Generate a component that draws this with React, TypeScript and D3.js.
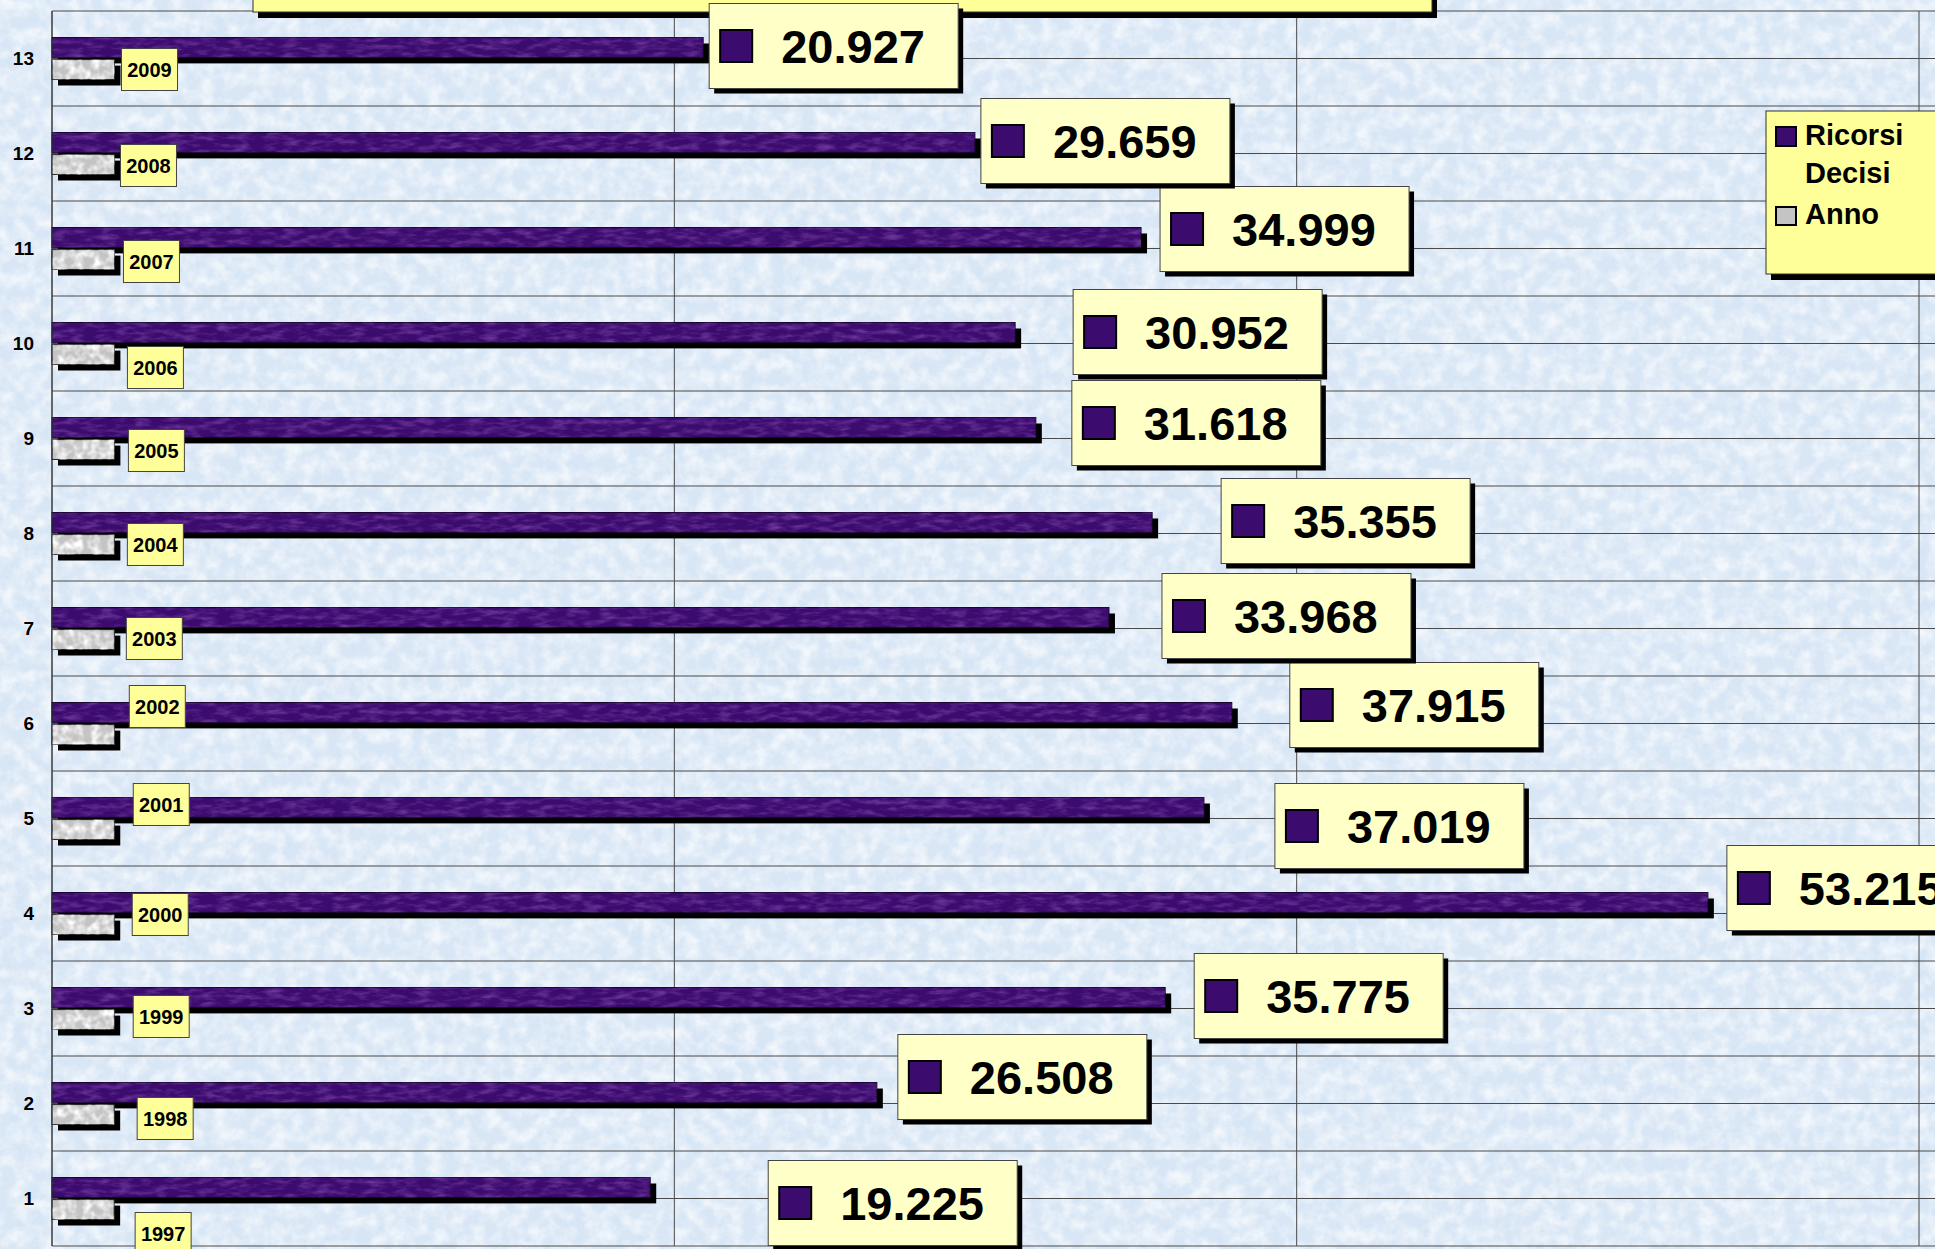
import React from "react";
import * as d3 from "d3";

const categories = ["1", "2", "3", "4", "5", "6", "7", "8", "9", "10", "11", "12", "13"];
const years = [1997, 1998, 1999, 2000, 2001, 2002, 2003, 2004, 2005, 2006, 2007, 2008, 2009];
const ricorsiDecisi = [19225, 26508, 35775, 53215, 37019, 37915, 33968, 35355, 31618, 30952, 34999, 29659, 20927];
const xTicks = [0, 20000, 40000, 60000];
const seriesNames = ["Ricorsi Decisi", "Anno"];

// hand-dragged label placement (offset from bar end / row centre)
const valueLabelDx = [118, 21, 29, 19, 71, 58, 53, 69, 36, 58, 19, 6, 6];
const valueLabelDy = [-38, -69, -55, -68, -35, -61, -55, -55, -58, -54, -62, -55, -55];
const yearLabelDx = [21, 23, 19, 18, 19, 15, 12, 13, 14, 13, 9, 6, 7];
const yearLabelDy = [14, -6, -13, -20, -35, -38, -11, -10, -9, 3, -8, -9, -10];

const W = 1935;
const H = 1249;
const left = 52;
const right = 1919;
const top = 11;
const bottom = 1246;
const font = "'Liberation Sans', Arial, Helvetica, sans-serif";
const purple = "#3b0b6e";
const grey = "#c4c4c4";

const fmt = d3.formatLocale({ decimal: ",", thousands: ".", grouping: [3], currency: ["€", ""] }).format(",d");

export default function App() {
  const x = d3.scaleLinear().domain([0, 60000]).range([left, right]);
  const y = d3
    .scaleBand()
    .domain(categories.slice().reverse())
    .range([top, bottom]);
  const sub = d3.scaleBand().domain(["r", "a"]).range([-21, 21]).paddingInner(0.1);
  const bw = y.bandwidth();
  const center = (c) => (y(c) as number) + bw / 2;

  const hLines = [];
  categories.forEach((c) => {
    hLines.push(y(c) as number);
    hLines.push(center(c));
  });
  hLines.push(bottom);

  const boxW = 249;
  const boxH = 85;

  return (
    <svg width={W} height={H} style={{ position: "absolute", left: 0, top: 0, display: "block" }}>
      <defs>
        <filter id="paper" x="0" y="0" width="100%" height="100%">
          <feTurbulence type="fractalNoise" baseFrequency="0.07" numOctaves="4" seed="5" result="n" />
          <feColorMatrix in="n" type="matrix" values="0 0 0 0 1  0 0 0 0 1  0 0 0 0 1  2.0 0 0 0 -0.7" />
        </filter>
        <filter id="paper2" x="0" y="0" width="100%" height="100%">
          <feTurbulence type="fractalNoise" baseFrequency="0.12" numOctaves="2" seed="11" result="n" />
          <feColorMatrix in="n" type="matrix" values="0 0 0 0 0.66  0 0 0 0 0.78  0 0 0 0 0.92  0 1.6 0 0 -0.75" />
        </filter>
        <filter id="purpleTex" x="0" y="0" width="100%" height="100%">
          <feTurbulence type="fractalNoise" baseFrequency="0.06 0.2" numOctaves="3" seed="2" result="n" />
          <feColorMatrix in="n" type="matrix" values="0 0 0 0 0.3  0 0 0 0 0.1  0 0 0 0 0.5  1.2 0 0 0 -0.5" result="c" />
          <feComposite in="c" in2="SourceGraphic" operator="in" />
        </filter>
        <filter id="greyTex" x="0" y="0" width="100%" height="100%">
          <feTurbulence type="fractalNoise" baseFrequency="0.12" numOctaves="2" seed="4" result="n" />
          <feColorMatrix in="n" type="matrix" values="0 0 0 0 1  0 0 0 0 1  0 0 0 0 1  2.4 0 0 0 -0.9" result="c" />
          <feComposite in="c" in2="SourceGraphic" operator="in" />
        </filter>
      </defs>

      {/* background */}
      <rect x={0} y={0} width={W} height={H} fill="#d8e6f5" />
      <rect x={0} y={0} width={W} height={H} fill="#fff" filter="url(#paper2)" />
      <rect x={0} y={0} width={W} height={H} fill="#fff" filter="url(#paper)" opacity={0.7} />

      {/* gridlines */}
      {hLines.map((v, i) => (
        <line key={"h" + i} x1={left} x2={W} y1={v} y2={v} stroke="#4a4a4a" strokeWidth={1} />
      ))}
      {xTicks.map((t) => (
        <line key={"v" + t} x1={x(t)} x2={x(t)} y1={top} y2={bottom} stroke="#4a4a4a" strokeWidth={1} />
      ))}

      {/* title box cut off at the top */}
      <rect x={258} y={-60} width={1179} height={78} fill="#000" />
      <rect x={253} y={-60} width={1179} height={72} fill="#ffff99" stroke="#333" strokeWidth={1} />

      {/* bars */}
      {categories.map((c, i) => {
        const cy = center(c);
        const ry = cy + (sub("r") as number);
        const ay = cy + (sub("a") as number);
        const h = sub.bandwidth();
        const rw = x(ricorsiDecisi[i]) - x(0);
        const aw = x(years[i]) - x(0);
        return (
          <g key={"b" + c}>
            <rect x={x(0) + 6} y={ry + 6} width={rw} height={h} fill="#000" />
            <rect x={x(0)} y={ry} width={rw} height={h} fill={purple} stroke="#1a0530" strokeWidth={1} />
            <rect x={x(0)} y={ry} width={rw} height={h} fill="#fff" filter="url(#purpleTex)" />
            <rect x={x(0) + 6} y={ay + 6} width={aw} height={h} fill="#000" />
            <rect x={x(0)} y={ay} width={aw} height={h} fill={grey} stroke="#222" strokeWidth={1} />
            <rect x={x(0)} y={ay} width={aw} height={h} fill="#fff" filter="url(#greyTex)" />
          </g>
        );
      })}

      {/* left axis */}
      <line x1={left} x2={left} y1={top} y2={bottom} stroke="#333" strokeWidth={1} />
      {categories.map((c) => (
        <text key={"t" + c} x={34} y={center(c) + 6} textAnchor="end" fontFamily={font} fontWeight="bold" fontSize={19} fill="#000">
          {c}
        </text>
      ))}

      {/* year labels */}
      {categories.map((c, i) => {
        const bx = x(years[i]) + yearLabelDx[i];
        const by = center(c) + yearLabelDy[i];
        return (
          <g key={"y" + c}>
            <rect x={bx} y={by} width={56} height={42} fill="#ffff99" stroke="#444" strokeWidth={1} />
            <text x={bx + 28} y={by + 28} textAnchor="middle" fontFamily={font} fontWeight="bold" fontSize={20} fill="#000">
              {years[i]}
            </text>
          </g>
        );
      })}

      {/* value labels */}
      {categories.map((c, i) => {
        const bx = x(ricorsiDecisi[i]) + valueLabelDx[i];
        const by = center(c) + valueLabelDy[i];
        return (
          <g key={"v" + c}>
            <rect x={bx + 5} y={by + 5} width={boxW} height={boxH} fill="#000" />
            <rect x={bx} y={by} width={boxW} height={boxH} fill="#ffffc8" stroke="#444" strokeWidth={1} />
            <rect x={bx + 11} y={by + (boxH - 32) / 2} width={32} height={32} fill={purple} stroke="#000" strokeWidth={2} />
            <text x={bx + 72} y={by + boxH / 2 + 16.5} fontFamily={font} fontWeight="bold" fontSize={47} fill="#000">
              {fmt(ricorsiDecisi[i])}
            </text>
          </g>
        );
      })}

      {/* legend */}
      <g>
        <rect x={1771} y={116} width={180} height={164} fill="#000" />
        <rect x={1766} y={111} width={180} height={163} fill="#ffff99" stroke="#333" strokeWidth={1} />
        <rect x={1776} y={127} width={20} height={19} fill={purple} stroke="#000" strokeWidth={2} />
        <text x={1805} y={145} fontFamily={font} fontWeight="bold" fontSize={29} fill="#000">Ricorsi</text>
        <text x={1805} y={183} fontFamily={font} fontWeight="bold" fontSize={29} fill="#000">Decisi</text>
        <rect x={1776} y={207} width={20} height={18} fill={grey} stroke="#000" strokeWidth={2} />
        <text x={1805} y={224} fontFamily={font} fontWeight="bold" fontSize={29} fill="#000">{seriesNames[1]}</text>
      </g>
    </svg>
  );
}
